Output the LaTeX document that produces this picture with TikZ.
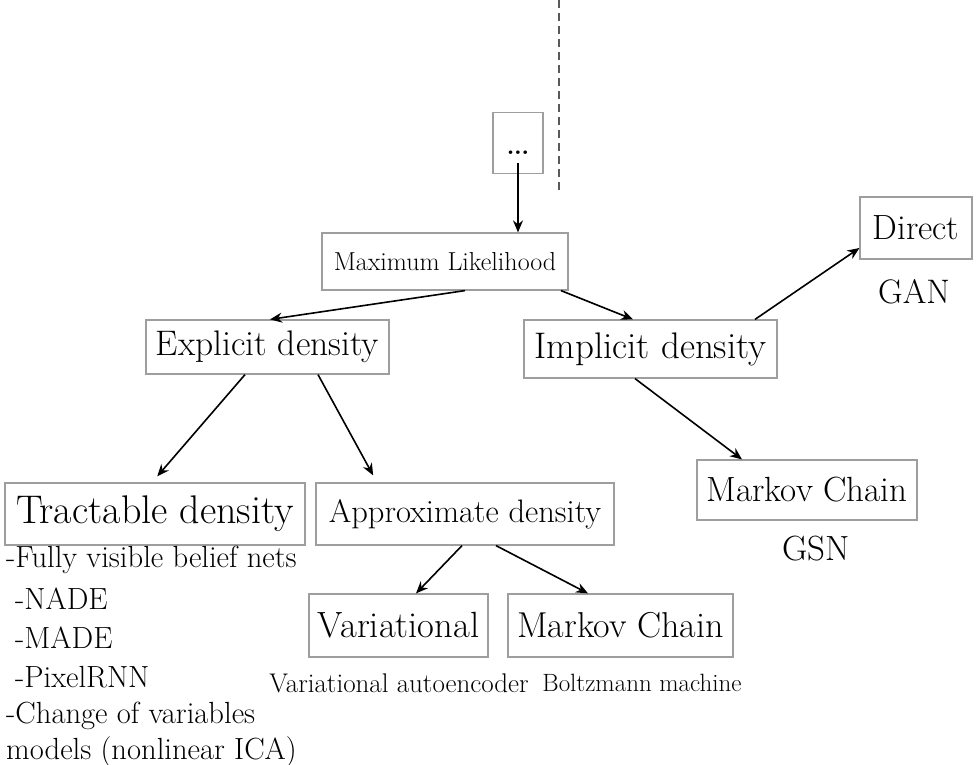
\documentclass[tikz,border=0pt]{standalone}
\usepackage{fontspec}
\setmainfont{Latin Modern Roman}
\usetikzlibrary{arrows.meta,calc}

\newcommand{\fs}[1]{\fontsize{#1}{#1}\selectfont}

\tikzset{
  box/.style={draw=black!38, line width=1.2pt, inner sep=0pt, anchor=center},
  conn/.style={line width=1.6pt, -{Stealth[length=12pt,width=10pt]}},
  caption/.style={inner sep=0pt, anchor=center},
  listitem/.style={inner sep=0pt, anchor=west, font=\fs{30.6}},
}

\begin{document}
\begin{tikzpicture}[x=1pt, y=-1pt]
  \useasboundingbox (0,0) rectangle (979,765);

  % dashed separator
  \coordinate (septop) at (559,0);
  \coordinate (sepbot) at (559,192);
  \draw[black!65, line width=1.3pt, dash pattern=on 8pt off 5pt] (septop) -- (sepbot);

  % boxes
  \node[box, minimum width=50pt, minimum height=61pt] (dots) at (518,143) {};
  \node[inner sep=0pt, font=\fs{44}] (dotstext) at (518,153) {\dots};

  \node[box, minimum width=246pt, minimum height=57pt, font=\fs{26}] (ml) at (445,261.5) {Maximum Likelihood};

  \node[box, minimum width=243pt, minimum height=54pt, font=\fs{35.5}] (expl) at (267.5,347) {Explicit density};
  \node[box, minimum width=253pt, minimum height=58pt, font=\fs{37}] (impl) at (650.5,349) {Implicit density};

  \node[box, minimum width=112pt, minimum height=62pt, font=\fs{35}] (direct) at (916,228) {Direct};
  \node[caption, font=\fs{34}] (gan) at (914,292) {GAN};

  \node[box, minimum width=300pt, minimum height=62pt, font=\fs{40}] (tract) at (155,514) {Tractable density};
  \node[box, minimum width=298pt, minimum height=62pt, font=\fs{32.5}] (approx) at (465,514) {Approximate density};

  \node[box, minimum width=220pt, minimum height=60pt, font=\fs{35}] (mcr) at (807,490) {Markov Chain};
  \node[caption, font=\fs{35}] (gsn) at (816,549) {GSN};

  \node[box, minimum width=179pt, minimum height=63pt, font=\fs{36.5}] (var) at (398.5,625.5) {Variational};
  \node[box, minimum width=225pt, minimum height=63pt, font=\fs{36}] (mcl) at (620.5,625.5) {Markov Chain};

  \node[caption, font=\fs{27}] (vae) at (399,683) {Variational autoencoder};
  \node[caption, font=\fs{25}] (bm) at (642,683) {Boltzmann machine};

  % list under the tractable density box
  \node[listitem] (l1) at (6,560) {-Fully visible belief nets};
  \node[listitem] (l2) at (15,599) {-NADE};
  \node[listitem] (l3) at (15,638) {-MADE};
  \node[listitem] (l4) at (15,677) {-PixelRNN};
  \node[listitem] (l5) at (6,716) {-Change of variables};
  \node[listitem] (l6) at (6,752) {models (nonlinear ICA)};

  % connectors
  \draw[conn] ([yshift=11pt]dots.south) -- (ml.north -| dots.south);
  \draw[conn] ([xshift=20pt]ml.south) -- ([xshift=2.5pt]expl.north);
  \draw[conn] ([xshift=116pt]ml.south) -- ([xshift=-17.5pt]impl.north);
  \draw[conn] ([xshift=104.5pt]impl.north) -- ([yshift=-20pt]direct.west);
  \draw[conn, shorten >=8pt] ([xshift=-22.5pt]expl.south) -- ([xshift=-3pt]tract.north);
  \draw[conn, shorten >=8pt] ([xshift=50.5pt]expl.south) -- ([xshift=-88pt]approx.north);
  \draw[conn] ([xshift=-15.5pt]impl.south) -- ([xshift=-65pt]mcr.north);
  \draw[conn] ([xshift=-3pt]approx.south) -- ([xshift=17.5pt]var.north);
  \draw[conn] ([xshift=31pt]approx.south) -- ([xshift=-32.5pt]mcl.north);
\end{tikzpicture}
\end{document}
